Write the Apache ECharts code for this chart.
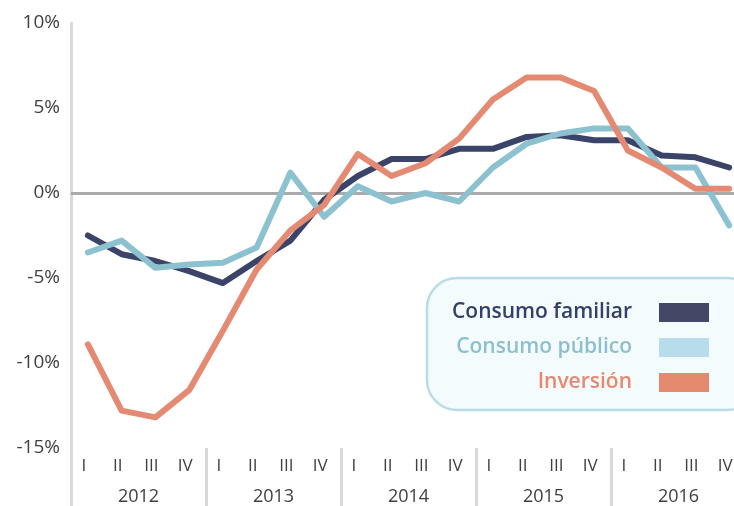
<!DOCTYPE html>
<html>
<head>
<meta charset="utf-8">
<script src="https://cdn.jsdelivr.net/npm/echarts@6/dist/echarts.min.js"></script>
<style>
  html, body { margin: 0; padding: 0; background: #fff; }
  #chart { width: 734px; height: 506px; }
</style>
</head>
<body>
<div id="chart"></div>
<script>
const years = ["2012", "2013", "2014", "2015", "2016"];
const quarters = ["I", "II", "III", "IV"];

// growth, %
const consumoFamiliar = [-2.5, -3.6, -4.0, -4.6, -5.3, -4.0, -2.8, -0.4, 1.0, 2.0, 2.0, 2.6, 2.6, 3.3, 3.4, 3.1, 3.1, 2.2, 2.1, 1.5];
const consumoPublico = [-3.5, -2.8, -4.4, -4.2, -4.1, -3.2, 1.2, -1.4, 0.4, -0.5, 0.0, -0.5, 1.5, 2.9, 3.5, 3.8, 3.8, 1.5, 1.5, -1.9];
const inversion = [-8.9, -12.8, -13.2, -11.6, -8.1, -4.5, -2.2, -0.7, 2.3, 1.0, 1.75, 3.2, 5.5, 6.8, 6.8, 6.0, 2.5, 1.5, 0.25, 0.25];

const yTicks = { min: -15, max: 10, step: 5 };

const categories = [];
years.forEach(y => quarters.forEach(q => categories.push(y + "-" + q)));

const chart = echarts.init(document.getElementById("chart"));

const font = "'Open Sans', 'Noto Sans', sans-serif";
const gray = "#d9d9d9";

function lineSeries(name, data, color, z) {
  return {
    name: name,
    type: "line",
    data: data,
    xAxisIndex: 0,
    showSymbol: false,
    symbol: "none",
    z: z,
    lineStyle: { color: color, width: 6, cap: "round", join: "round" },
    itemStyle: { color: color }
  };
}

const series = [
  lineSeries("Consumo familiar", consumoFamiliar, "#3b4468", 3),
  lineSeries("Consumo público", consumoPublico, "#8cc1d0", 4),
  lineSeries("Inversión", inversion, "#e58a72", 5)
];
series[0].markLine = {
  silent: true,
  symbol: "none",
  z: 1,
  label: { show: false },
  lineStyle: { color: "#aaaaaa", width: 3, type: "solid" },
  data: [{ yAxis: 0 }]
};

chart.setOption({
  animation: false,
  textStyle: { fontFamily: font },
  // the plot runs past the right edge of the picture
  grid: { left: 71, right: -12, top: 23, bottom: 58, containLabel: false, outerBoundsMode: "none" },
  xAxis: [
    {
      type: "category",
      data: categories,
      boundaryGap: true,
      position: "bottom",
      axisLine: { show: true, lineStyle: { color: gray, width: 3 } },
      axisTick: { show: false },
      axisLabel: {
        interval: 0,
        margin: 10,
        fontSize: 17,
        color: "#404040",
        fontFamily: font,
        padding: [0, 8, 0, 0],
        formatter: v => v.split("-")[1]
      },
      splitLine: { show: false }
    },
    {
      type: "category",
      data: years,
      boundaryGap: true,
      position: "bottom",
      axisLine: { show: false },
      axisTick: { show: true, interval: 0, length: 60, lineStyle: { color: gray, width: 3 } },
      axisLabel: { interval: 0, margin: 40, fontSize: 18, color: "#404040", fontFamily: font },
      splitLine: { show: false }
    }
  ],
  yAxis: {
    type: "value",
    min: yTicks.min,
    max: yTicks.max,
    interval: yTicks.step,
    axisLine: { show: true, lineStyle: { color: gray, width: 3 } },
    axisTick: { show: false },
    splitLine: { show: false },
    axisLabel: {
      margin: 11,
      fontSize: 19,
      color: "#404040",
      fontFamily: font,
      formatter: "{value}%"
    }
  },
  graphic: [
    {
      type: "rect",
      z: 10,
      shape: { x: 427, y: 278, width: 330, height: 132, r: 30 },
      style: { fill: "#f4fbfd", stroke: "#b8dcea", lineWidth: 2.5 }
    }
  ],
  legend: {
    orient: "vertical",
    right: 25,
    top: 302,
    padding: 0,
    z: 20,
    align: "right",
    icon: "rect",
    itemWidth: 50,
    itemHeight: 19,
    itemGap: 14,
    selectedMode: false,
    textStyle: { fontFamily: font, fontSize: 21, lineHeight: 21, fontWeight: 600, padding: [0, 22, 0, 0] },
    data: [
      { name: "Consumo familiar", itemStyle: { color: "#424866", borderWidth: 0 }, textStyle: { color: "#35406a" } },
      { name: "Consumo público", itemStyle: { color: "#b7dceb", borderWidth: 0 }, textStyle: { color: "#8cc0cf" } },
      { name: "Inversión", itemStyle: { color: "#e5896f", borderWidth: 0 }, textStyle: { color: "#e5896f" } }
    ]
  },
  series: series
});
</script>
</body>
</html>
